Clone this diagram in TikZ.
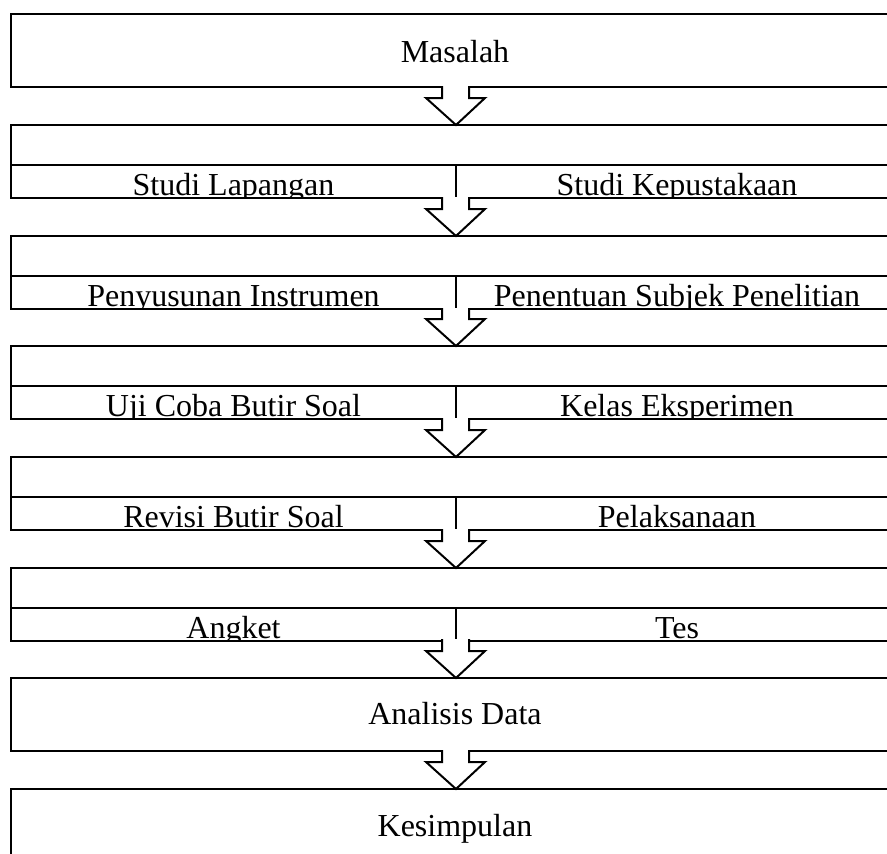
\documentclass[tikz,border=0pt]{standalone}
\usepackage{fontspec}
\setmainfont{Liberation Serif}
\begin{document}
\begin{tikzpicture}[x=1pt,y=-1pt,line width=2pt,
  boxline/.style={draw=black,line width=2pt},
  lbl/.style={inner sep=0pt,anchor=base,font=\fontsize{32}{38}\selectfont},
  flowarrow/.style={draw=black,fill=white,line width=2pt,line join=miter}]
\useasboundingbox (0,0) rectangle (887,854);
\clip (0,0) rectangle (887,854);
% single boxes
\draw[boxline] (11,14) rectangle (898,87);
\node[lbl] (masalah) at (455,62) {Masalah};
\draw[boxline] (11,678) rectangle (898,751);
\node[lbl] (analisis) at (455,724) {Analisis Data};
\draw[boxline] (11,789) rectangle (898,900);
\node[lbl] (kesimpulan) at (455,836) {Kesimpulan};
% split boxes
\foreach \t/\l/\r [count=\i] in {125/Studi Lapangan/Studi Kepustakaan,
    236/Penyusunan Instrumen/Penentuan Subjek Penelitian,
    346/Uji Coba Butir Soal/Kelas Eksperimen,
    457/Revisi Butir Soal/Pelaksanaan,
    568/Angket/Tes}{
  \begin{scope}
    \clip (11,\t+40) rectangle (898,\t+73);
    \node[lbl] (L\i) at (233.5,\t+70) {\l};
    \node[lbl] (R\i) at (677,\t+70) {\r};
  \end{scope}
  \draw[boxline] (11,\t) rectangle (898,\t+73);
  \draw[boxline] (11,\t+40) -- (898,\t+40);
  \draw[boxline] (456,\t+40) -- (456,\t+73);
}
% arrows
\foreach \b/\n in {87/125,198/236,309/346,419/457,530/568,640/678,751/789}{
  \draw[flowarrow] (442,\b-1) -- (442,\n-27) -- (426,\n-27) -- (456,\n)
     -- (485,\n-27) -- (469,\n-27) -- (469,\b-1);
}
\end{tikzpicture}
\end{document}
